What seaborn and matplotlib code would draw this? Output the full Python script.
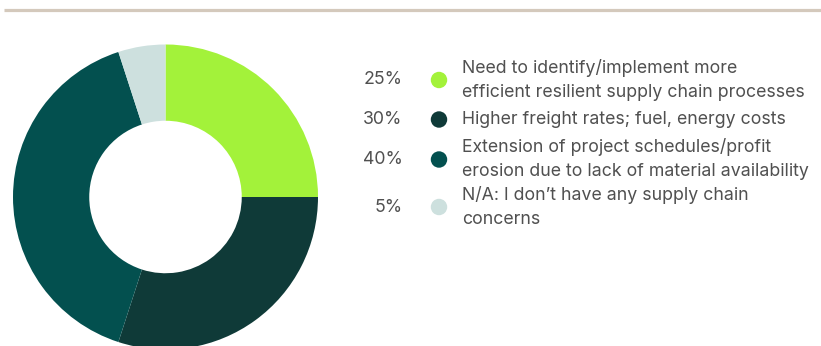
import matplotlib
matplotlib.use("Agg")
import matplotlib.pyplot as plt
import seaborn as sns
import pandas as pd

# Survey responses on supply chain concerns
categories = [
    "Need to identify/implement more\nefficient resilient supply chain processes",
    "Higher freight rates; fuel, energy costs",
    "Extension of project schedules/profit\nerosion due to lack of material availability",
    "N/A: I don\u2019t have any supply chain\nconcerns",
]
shares = [25, 30, 40, 5]
pct_labels = ["25%", "30%", "40%", "5%"]
colors = ["#a3f23a", "#0f3a38", "#03504f", "#cde0de"]

sns.set_theme(style="white")
plt.rcParams["font.family"] = ["Inter", "DejaVu Sans"]

W, H = 821, 346
fig = plt.figure(figsize=(W / 100, H / 100), dpi=100)
fig.patch.set_facecolor("white")

# Thin rule across the top
rule = fig.add_axes([0, 0, 1, 1])
rule.set_xlim(0, W)
rule.set_ylim(H, 0)
rule.axis("off")
rule.plot([4, W], [9.5, 9.5], color="#d4c9bc", lw=2.3, solid_capstyle="butt")

# Donut
cx, cy, r = 165.5, 197.0, 152.5
ax = fig.add_axes([(cx - r) / W, (H - cy - r) / H, 2 * r / W, 2 * r / H])
ax.pie(shares, colors=colors, startangle=90, counterclock=False, radius=1,
       wedgeprops=dict(width=0.5, edgecolor="none"))
ax.set_xlim(-1, 1)
ax.set_ylim(-1, 1)
ax.set_aspect("equal")
ax.axis("off")

# Legend: percentage, colour dot, description
leg = pd.DataFrame({
    "y": [80, 119.5, 159.5, 207],
    "x": [439] * 4,
    "cat": categories,
})
sns.scatterplot(data=leg, x="x", y="y", hue="cat", palette=colors, s=140,
                linewidth=0, legend=False, ax=rule, clip_on=False)
rule.set_xlim(0, W)
rule.set_ylim(H, 0)
rule.axis("off")

text_color = "#505050"
fs = 12.75
line_gap = 24.5
for yc, pct, cat in zip(leg["y"], pct_labels, categories):
    rule.text(402.5, yc, pct, ha="right", va="center", fontsize=fs, color=text_color)
    lines = cat.split("\n")
    n = len(lines)
    for i, line in enumerate(lines):
        y = yc + (i - (n - 1) / 2) * line_gap
        rule.text(462.5, y, line, ha="left", va="center", fontsize=fs, color=text_color)

fig.savefig("out.png", dpi=100, facecolor="white")
